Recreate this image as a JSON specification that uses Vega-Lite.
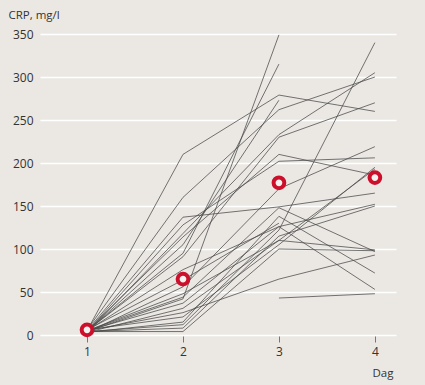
{
  "$schema": "https://vega.github.io/schema/vega-lite/v6.json",
  "width": 356,
  "height": 301,
  "autosize": {"type": "none"},
  "padding": {"left": 40, "top": 34, "right": 29, "bottom": 50},
  "background": "#ebe8e4",
  "config": {
    "view": {"stroke": null, "fill": "#ebe8e4"},
    "font": "Open Sans",
    "axis": {"labelFont": "Open Sans", "titleFont": "Open Sans", "labelColor": "#333", "titleColor": "#333", "labelFontSize": 12, "titleFontSize": 11.5, "titleFontWeight": "normal"}
  },
  "datasets": {
    "patients": [
      {"p": 1, "d": 1, "v": 5}, {"p": 1, "d": 2, "v": 210}, {"p": 1, "d": 3, "v": 279}, {"p": 1, "d": 4, "v": 260},
      {"p": 2, "d": 1, "v": 6}, {"p": 2, "d": 2, "v": 160}, {"p": 2, "d": 3, "v": 262}, {"p": 2, "d": 4, "v": 300},
      {"p": 3, "d": 1, "v": 4}, {"p": 3, "d": 2, "v": 42}, {"p": 3, "d": 3, "v": 349},
      {"p": 4, "d": 1, "v": 5}, {"p": 4, "d": 2, "v": 95}, {"p": 4, "d": 3, "v": 315},
      {"p": 5, "d": 1, "v": 4}, {"p": 5, "d": 2, "v": 105}, {"p": 5, "d": 3, "v": 273},
      {"p": 6, "d": 1, "v": 3}, {"p": 6, "d": 2, "v": 118}, {"p": 6, "d": 3, "v": 233}, {"p": 6, "d": 4, "v": 305},
      {"p": 7, "d": 1, "v": 5}, {"p": 7, "d": 2, "v": 91}, {"p": 7, "d": 3, "v": 230}, {"p": 7, "d": 4, "v": 270},
      {"p": 8, "d": 1, "v": 4}, {"p": 8, "d": 2, "v": 128}, {"p": 8, "d": 3, "v": 202}, {"p": 8, "d": 4, "v": 206},
      {"p": 9, "d": 1, "v": 5}, {"p": 9, "d": 2, "v": 114}, {"p": 9, "d": 3, "v": 210}, {"p": 9, "d": 4, "v": 186},
      {"p": 10, "d": 1, "v": 3}, {"p": 10, "d": 2, "v": 56}, {"p": 10, "d": 3, "v": 170}, {"p": 10, "d": 4, "v": 219},
      {"p": 11, "d": 1, "v": 5}, {"p": 11, "d": 2, "v": 137}, {"p": 11, "d": 3, "v": 149}, {"p": 11, "d": 4, "v": 165},
      {"p": 12, "d": 1, "v": 4}, {"p": 12, "d": 2, "v": 12}, {"p": 12, "d": 3, "v": 122}, {"p": 12, "d": 4, "v": 340},
      {"p": 13, "d": 1, "v": 6}, {"p": 13, "d": 2, "v": 21}, {"p": 13, "d": 3, "v": 105}, {"p": 13, "d": 4, "v": 195},
      {"p": 14, "d": 1, "v": 3}, {"p": 14, "d": 2, "v": 31}, {"p": 14, "d": 3, "v": 110}, {"p": 14, "d": 4, "v": 193},
      {"p": 15, "d": 1, "v": 5}, {"p": 15, "d": 2, "v": 37}, {"p": 15, "d": 3, "v": 126}, {"p": 15, "d": 4, "v": 152},
      {"p": 16, "d": 1, "v": 4}, {"p": 16, "d": 2, "v": 8}, {"p": 16, "d": 3, "v": 115}, {"p": 16, "d": 4, "v": 150},
      {"p": 17, "d": 1, "v": 5}, {"p": 17, "d": 2, "v": 44}, {"p": 17, "d": 3, "v": 148}, {"p": 17, "d": 4, "v": 97},
      {"p": 18, "d": 1, "v": 3}, {"p": 18, "d": 2, "v": 15}, {"p": 18, "d": 3, "v": 138}, {"p": 18, "d": 4, "v": 72},
      {"p": 19, "d": 1, "v": 5}, {"p": 19, "d": 2, "v": 76}, {"p": 19, "d": 3, "v": 126}, {"p": 19, "d": 4, "v": 53},
      {"p": 20, "d": 1, "v": 5}, {"p": 20, "d": 2, "v": 26}, {"p": 20, "d": 3, "v": 65}, {"p": 20, "d": 4, "v": 93},
      {"p": 21, "d": 3, "v": 43}, {"p": 21, "d": 4, "v": 48},
      {"p": 22, "d": 1, "v": 4}, {"p": 22, "d": 2, "v": 4}, {"p": 22, "d": 3, "v": 100}, {"p": 22, "d": 4, "v": 98},
      {"p": 23, "d": 1, "v": 6}, {"p": 23, "d": 2, "v": 64}, {"p": 23, "d": 3, "v": 130},
      {"p": 24, "d": 1, "v": 5}, {"p": 24, "d": 2, "v": 48}, {"p": 24, "d": 3, "v": 110}, {"p": 24, "d": 4, "v": 99}
    ],
    "medians": [
      {"d": 1, "v": 6}, {"d": 2, "v": 65}, {"d": 3, "v": 177}, {"d": 4, "v": 183}
    ]
  },
  "layer": [
    {
      "data": {"name": "patients"},
      "mark": {"type": "line", "color": "#4a4a4a", "strokeWidth": 0.9, "opacity": 0.85},
      "encoding": {
        "x": {"field": "d", "type": "quantitative", "scale": {"domain": [0.51, 4.22], "nice": false, "zero": false},
          "axis": {"values": [1, 2, 3, 4], "format": "d", "grid": false, "domain": false, "tickColor": "#777", "tickSize": 6, "tickOffset": 0, "offset": 1, "labelPadding": 4, "title": "Dag", "titleAnchor": "start", "titleAlign": "right", "titleBaseline": "middle", "titleX": 353, "titleY": 37}},
        "y": {"field": "v", "type": "quantitative", "scale": {"domain": [0, 350], "nice": false},
          "axis": {"values": [0, 50, 100, 150, 200, 250, 300, 350], "grid": true, "gridColor": "#ffffff", "gridWidth": 1.5, "domain": false, "ticks": false, "labelPadding": 7, "title": "CRP, mg/l", "titleAngle": 0, "titleAlign": "left", "titleBaseline": "middle", "titleX": -32, "titleY": -19}},
        "detail": {"field": "p", "type": "nominal"}
      }
    },
    {
      "data": {"name": "medians"},
      "mark": {"type": "point", "shape": "circle", "filled": true, "fill": "#f4f2ef", "stroke": "#cc0f2b", "strokeWidth": 4, "size": 115, "opacity": 1},
      "encoding": {
        "x": {"field": "d", "type": "quantitative"},
        "y": {"field": "v", "type": "quantitative"}
      }
    }
  ]
}
